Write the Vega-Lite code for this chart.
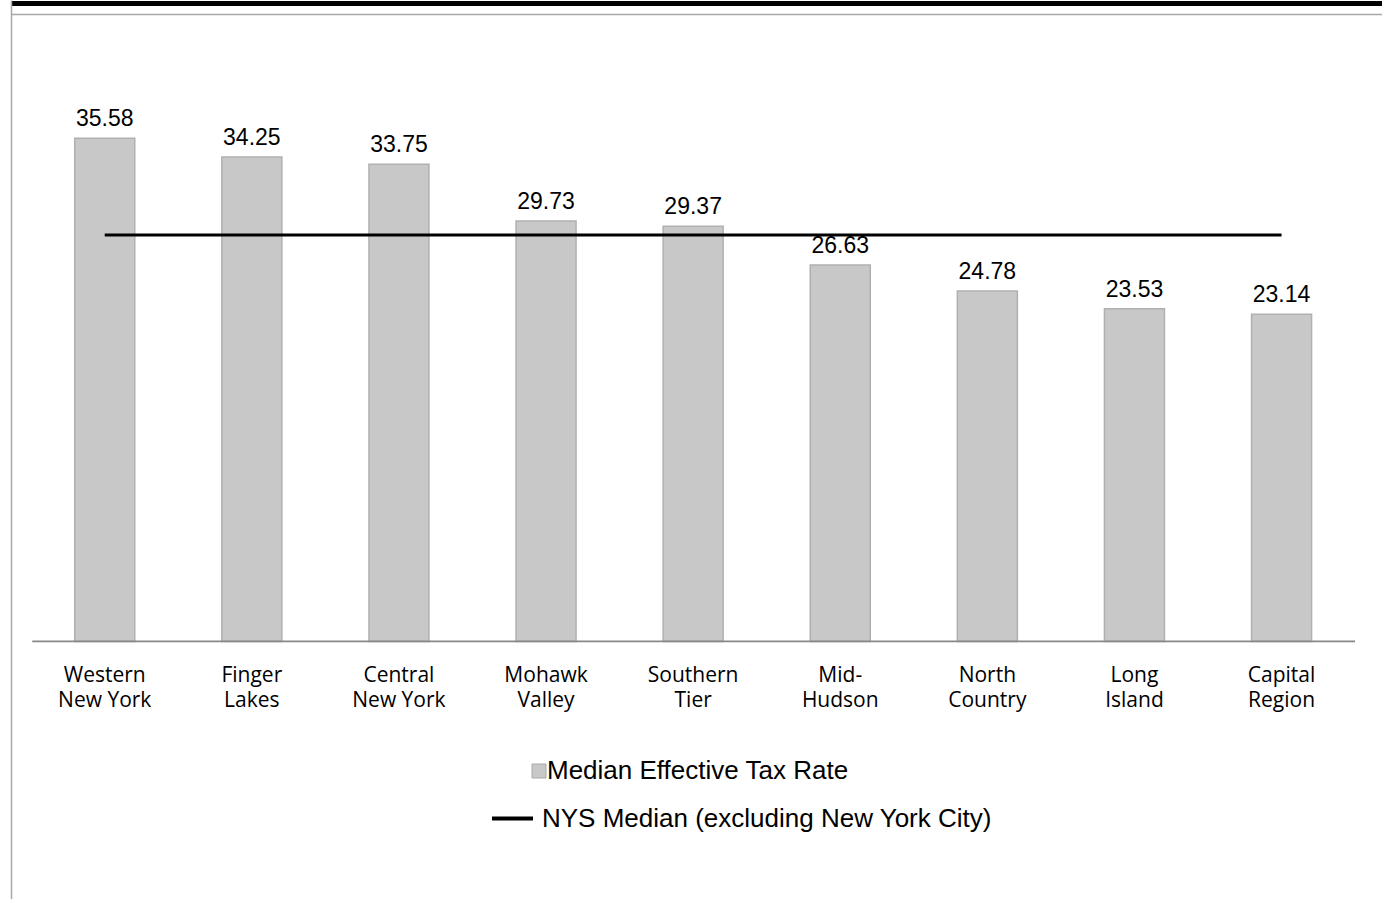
{
  "$schema": "https://vega.github.io/schema/vega-lite/v6.json",
  "width": 1382,
  "height": 899,
  "autosize": {"type": "fit", "contains": "padding"},
  "padding": {"left": 11, "top": 0, "right": 0, "bottom": 0},
  "background": "white",
  "config": {"view": {"stroke": null}},
  "data": {
    "values": [
      {"region": "Western|New York", "rate": 35.58, "nys": 28.74},
      {"region": "Finger|Lakes", "rate": 34.25, "nys": 28.74},
      {"region": "Central|New York", "rate": 33.75, "nys": 28.74},
      {"region": "Mohawk|Valley", "rate": 29.73, "nys": 28.74},
      {"region": "Southern|Tier", "rate": 29.37, "nys": 28.74},
      {"region": "Mid-|Hudson", "rate": 26.63, "nys": 28.74},
      {"region": "North|Country", "rate": 24.78, "nys": 28.74},
      {"region": "Long|Island", "rate": 23.53, "nys": 28.74},
      {"region": "Capital|Region", "rate": 23.14, "nys": 28.74}
    ]
  },
  "encoding": {
    "x": {
      "field": "region",
      "type": "nominal",
      "sort": null,
      "scale": {"paddingInner": 0.592, "paddingOuter": 0.456, "align": 0.475},
      "axis": {
        "orient": "bottom",
        "offset": -257.5,
        "title": null,
        "labelAngle": 0,
        "labelExpr": "split(datum.label, '|')",
        "labelFont": "Open Sans",
        "labelFontSize": 21,
        "labelColor": "#000000",
        "labelLineHeight": 25,
        "labelPadding": 23,
        "ticks": false,
        "tickSize": 0,
        "domain": false,
        "grid": false
      }
    }
  },
  "layer": [
    {
      "mark": {"type": "bar", "stroke": "#b0b0b0", "strokeWidth": 1.5},
      "encoding": {
        "y": {
          "field": "rate",
          "type": "quantitative",
          "title": null,
          "scale": {"domain": [-18.21, 45.36], "nice": false, "zero": false},
          "axis": {
            "orient": "left",
            "title": null,
            "labels": false,
            "ticks": false,
            "domain": true,
            "domainColor": "#a8a8a8",
            "domainWidth": 1.5,
            "grid": true,
            "values": [44.4, 45.18],
            "gridColor": {"condition": {"test": "datum.value > 45", "value": "#000000"}, "value": "#a8a8a8"},
            "gridWidth": {"condition": {"test": "datum.value > 45", "value": 5}, "value": 1.5},
            "gridOpacity": 1
          }
        },
        "color": {
          "datum": "Median Effective Tax Rate",
          "scale": {"range": ["#c8c8c8"]},
          "legend": {
            "title": null,
            "orient": "none",
            "legendX": 515,
            "legendY": 758,
            "padding": 0,
            "symbolType": "square",
            "symbolSize": 196,
            "symbolStrokeColor": "#a8a8a8",
            "symbolStrokeWidth": 1,
            "labelFont": "Liberation Sans",
            "labelFontSize": 26,
            "labelColor": "#000000",
            "labelOffset": -5,
            "labelLimit": 600
          }
        }
      }
    },
    {
      "data": {"values": [{"first": "Western|New York", "last": "Capital|Region", "base": 0}]},
      "mark": {"type": "rule", "color": "#888888", "strokeWidth": 1.75, "xOffset": -72.5, "x2Offset": 73.5},
      "encoding": {
        "x": {"field": "first", "type": "nominal"},
        "x2": {"field": "last"},
        "y": {"field": "base", "type": "quantitative", "title": null}
      }
    },
    {
      "mark": {"type": "line", "strokeWidth": 3},
      "encoding": {
        "y": {"field": "nys", "type": "quantitative", "title": null},
        "color": {
          "datum": "NYS Median (excluding New York City)",
          "scale": {"range": ["#000000"]},
          "legend": {
            "title": null,
            "orient": "none",
            "legendX": 479,
            "legendY": 796,
            "padding": 0,
            "symbolType": "stroke",
            "symbolSize": 1681,
            "symbolStrokeWidth": 4,
            "labelFont": "Liberation Sans",
            "labelFontSize": 26,
            "labelColor": "#000000",
            "labelOffset": 7,
            "labelLimit": 600
          }
        }
      }
    },
    {
      "mark": {"type": "text", "font": "Liberation Sans", "fontSize": 23, "baseline": "alphabetic", "dy": -12, "color": "#000000"},
      "encoding": {
        "y": {"field": "rate", "type": "quantitative", "title": null},
        "text": {"field": "rate", "type": "quantitative", "format": ".2f"}
      }
    }
  ],
  "resolve": {"scale": {"color": "independent"}}
}
